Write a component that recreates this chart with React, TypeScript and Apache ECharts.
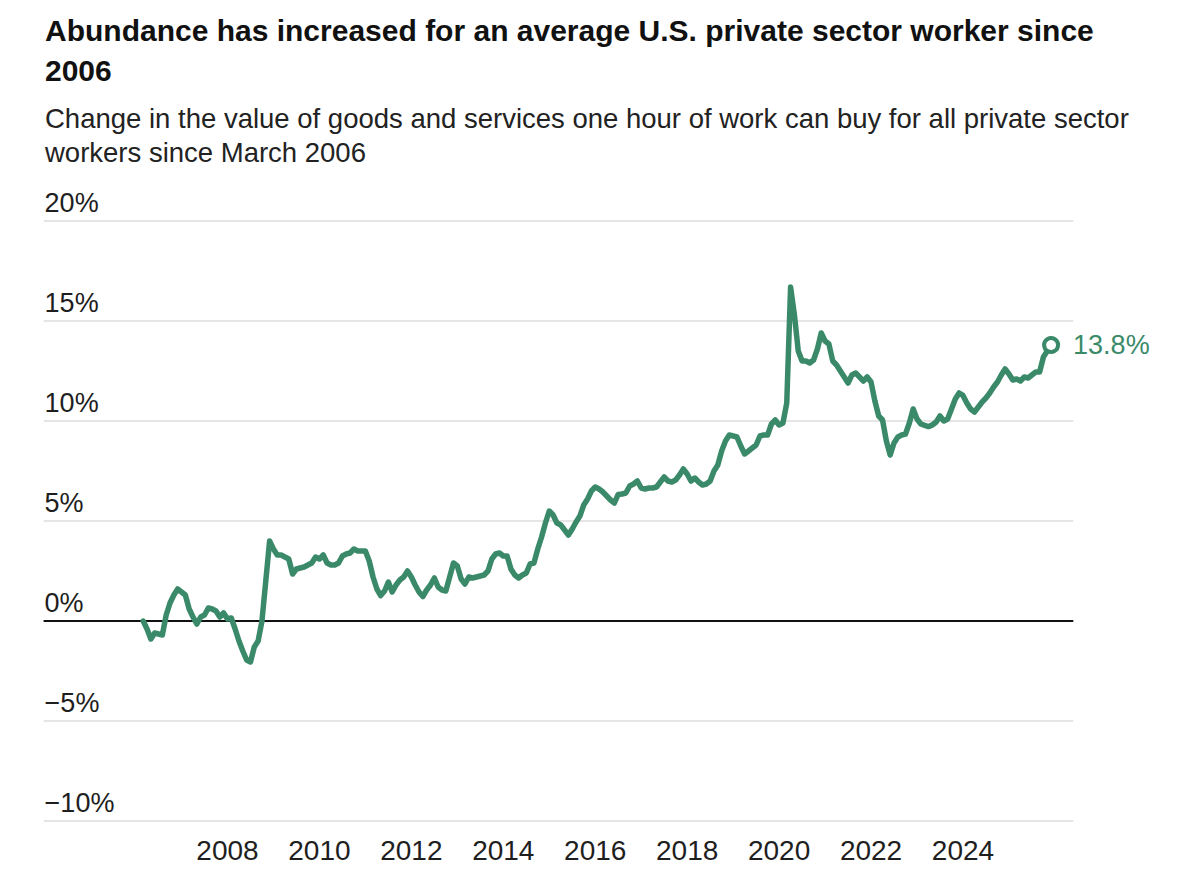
import React, { useEffect, useRef } from "react";
import * as echarts from "echarts";

const TITLE = "Abundance has increased for an average U.S. private sector worker since\n2006";
const SUBTITLE = "Change in the value of goods and services one hour of work can buy for all private sector\nworkers since March 2006";

// Monthly series, first value = March 2006
const START_YEAR = 2006;
const START_MONTH = 3;

const values2006to2010 = [
  0.0, -0.4, -0.9, -0.6, -0.65, -0.7, 0.3, 0.9, 1.3, 1.6,
  1.45, 1.3, 0.6, 0.2, -0.15, 0.2, 0.3, 0.65, 0.6, 0.5,
  0.2, 0.4, 0.1, 0.15, -0.4, -1.0, -1.5, -1.95, -2.05, -1.3,
  -1.0, 0.0, 2.0, 4.0, 3.6, 3.3, 3.3, 3.2, 3.1, 2.35,
  2.6, 2.65, 2.7, 2.8, 2.9, 3.2, 3.1, 3.3, 2.9, 2.8, 2.8,
];
const values2010to2014 = [
  2.9, 3.25, 3.35, 3.4, 3.6, 3.5, 3.5, 3.5, 3.0, 2.2,
  1.6, 1.27, 1.5, 1.95, 1.45, 1.8, 2.05, 2.2, 2.5, 2.2,
  1.8, 1.45, 1.22, 1.55, 1.8, 2.15, 1.7, 1.55, 1.5, 2.2,
  2.9, 2.75, 2.1, 1.85, 2.2, 2.15, 2.2, 2.25, 2.3, 2.5,
  3.1, 3.35, 3.4, 3.25, 3.25, 2.6, 2.3, 2.15, 2.3, 2.4, 2.85,
];
const values2014to2019 = [
  2.9, 3.6, 4.2, 4.9, 5.5, 5.3, 4.9, 4.8, 4.55, 4.3,
  4.6, 4.95, 5.25, 5.8, 6.1, 6.5, 6.7, 6.6, 6.45, 6.25,
  6.05, 5.9, 6.33, 6.35, 6.4, 6.75, 6.85, 7.0, 6.65, 6.6,
  6.65, 6.65, 6.7, 6.95, 7.2, 7.0, 6.95, 7.05, 7.3, 7.6,
  7.35, 7.0, 7.15, 6.95, 6.8, 6.85, 7.0, 7.5, 7.8, 8.5,
];
const values2019to2025 = [
  9.0, 9.3, 9.25, 9.2, 8.75, 8.35, 8.5, 8.65, 8.8, 9.25,
  9.3, 9.3, 9.85, 10.05, 9.8, 9.9, 10.9, 16.7, 15.3, 13.5,
  13.0, 13.0, 12.9, 13.05, 13.6, 14.4, 14.0, 13.85, 13.0, 12.8,
  12.5, 12.2, 11.9, 12.3, 12.4, 12.2, 12.0, 12.2, 11.95, 11.0,
  10.25, 10.05, 9.0, 8.3, 8.9, 9.2, 9.3, 9.35, 9.9, 10.6,
  10.1, 9.85, 9.78, 9.72, 9.8, 9.95, 10.25, 10.0, 10.1, 10.6,
  11.1, 11.4, 11.28, 10.9, 10.6, 10.45, 10.7, 10.95, 11.15, 11.4,
  11.7, 11.95, 12.3, 12.6, 12.35, 12.05, 12.1, 12.0, 12.2, 12.15,
  12.3, 12.45, 12.45, 13.2, 13.5, 13.8,
];
const values = [
  ...values2006to2010,
  ...values2010to2014,
  ...values2014to2019,
  ...values2019to2025,
];

const xTickYears = [2008, 2010, 2012, 2014, 2016, 2018, 2020, 2022, 2024];
const yTicks = [-10, -5, 0, 5, 10, 15, 20];

const GREEN = "#3a8a6a";
const TEXT = "#1e1e1e";
const FONT = "Liberation Sans, Arial, sans-serif";

export default function App() {
  const ref = useRef<HTMLDivElement>(null);

  useEffect(() => {
    if (!ref.current) return;
    const chart = echarts.init(ref.current, null, { renderer: "svg" });
    const data = values.map((v, i) => [START_YEAR + (START_MONTH - 1 + i) / 12, v]);
    const last = data[data.length - 1];

    chart.setOption({
      animation: false,
      backgroundColor: "#ffffff",
      textStyle: { fontFamily: FONT },
      title: [
        {
          text: TITLE,
          left: 45,
          top: 10,
          padding: 0,
          textStyle: {
            fontFamily: FONT,
            fontSize: 30,
            fontWeight: "bold",
            color: "#111",
            lineHeight: 40,
          },
        },
        {
          text: SUBTITLE,
          left: 45,
          top: 101,
          padding: 0,
          textStyle: {
            fontFamily: FONT,
            fontSize: 27.5,
            fontWeight: "normal",
            color: "#222",
            lineHeight: 34,
          },
        },
      ],
      grid: { left: 43.6, right: 126.7, top: 221, bottom: 54, containLabel: false },
      xAxis: {
        type: "value",
        min: 2004,
        max: 2026.4,
        interval: 2,
        axisLine: { show: false, onZero: false },
        axisTick: { show: false },
        splitLine: { show: false },
        axisLabel: {
          showMaxLabel: false,
          showMinLabel: false,
          margin: 15,
          fontSize: 28,
          color: TEXT,
          fontFamily: FONT,
          formatter: (v: number) => (xTickYears.includes(v) ? String(v) : ""),
        },
      },
      yAxis: {
        type: "value",
        min: yTicks[0],
        max: yTicks[yTicks.length - 1],
        interval: 5,
        axisLine: { show: false },
        axisTick: { show: false },
        splitLine: { show: true, lineStyle: { color: "#dddddd", width: 1.5 } },
        axisLabel: {
          inside: true,
          margin: 1,
          fontSize: 27,
          color: TEXT,
          fontFamily: FONT,
          verticalAlign: "bottom",
          padding: [0, 0, 5, 0],
          formatter: (v: number) => (v < 0 ? "\u2212" + Math.abs(v) + "%" : v + "%"),
        },
      },
      series: [
        {
          type: "line",
          data,
          showSymbol: false,
          symbol: "none",
          lineStyle: { color: GREEN, width: 5.5, join: "round", cap: "round" },
          z: 3,
          markLine: {
            silent: true,
            symbol: ["none", "none"],
            label: { show: false },
            lineStyle: { color: "#111", width: 1.8, type: "solid" },
            data: [{ yAxis: 0 }],
            z: 2,
          },
        },
        {
          type: "scatter",
          data: [last],
          symbol: "circle",
          symbolSize: 14,
          itemStyle: { color: "#ffffff", borderColor: GREEN, borderWidth: 4, opacity: 1 },
          z: 4,
          label: {
            show: true,
            position: "right",
            distance: 13,
            fontSize: 27,
            color: GREEN,
            opacity: 1,
            fontFamily: FONT,
            formatter: (p: any) => p.value[1].toFixed(1) + "%",
          },
        },
      ],
    });

    return () => chart.dispose();
  }, []);

  return (
    <div
      ref={ref}
      style={{ position: "fixed", left: 0, top: 0, width: 1200, height: 875, background: "#fff" }}
    />
  );
}
